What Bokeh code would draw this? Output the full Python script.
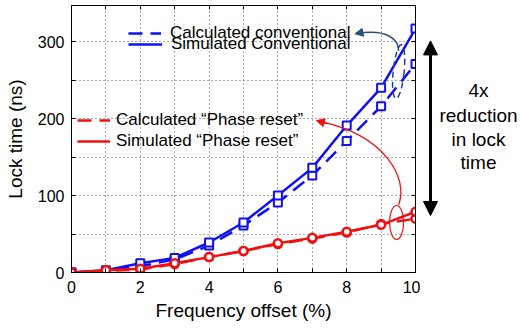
from bokeh.plotting import figure
from bokeh.layouts import row
from bokeh.models import (FixedTicker, LinearAxis, Range1d, Legend, LegendItem,
                          Label, Arrow, NormalHead)
from bokeh.embed import file_html
from bokeh.resources import INLINE

# Lock time (ns) versus frequency offset (%)
freq = [0, 1, 2, 3, 4, 5, 6, 7, 8, 9, 10]
sim_conv = [0, 3, 12, 19, 39, 65, 100, 136, 191, 240, 317]
calc_conv = [0, 2, 8, 17, 35, 61, 91, 126, 171, 216, 271]
sim_reset = [0, 3, 5, 12, 20, 28, 38, 45, 53, 62, 79]
calc_reset = [0, 2, 4, 11, 20, 28, 37, 44, 52, 63, 70]

x_ticks = list(range(0, 11))
x_labels = {t: (str(t) if t % 2 == 0 else "") for t in x_ticks}
y_ticks = list(range(0, 351, 50))
y_labels = {t: (str(t) if t % 100 == 0 else "") for t in y_ticks}

FONT = "Liberation Sans"
BLUE = "#1010f0"
RED = "#f01010"

p = figure(width=420, height=330, x_range=Range1d(0, 10), y_range=Range1d(0, 347),
           output_backend="svg", toolbar_location=None,
           min_border_left=71, min_border_right=5, min_border_top=5, min_border_bottom=58)

p.outline_line_color = "black"
p.outline_line_width = 1

for ax, ticks, labels in ((p.xaxis[0], x_ticks, x_labels), (p.yaxis[0], y_ticks, y_labels)):
    ax.ticker = FixedTicker(ticks=ticks)
    ax.major_label_overrides = labels
    ax.major_tick_in = 4
    ax.major_tick_out = 0
    ax.minor_tick_line_color = None
    ax.axis_line_color = "black"
    ax.major_label_text_font = FONT
    ax.major_label_text_font_size = "16px"
    ax.major_label_text_color = "black"
    ax.axis_label_text_font = FONT
    ax.axis_label_text_font_size = "19px"
    ax.axis_label_text_font_style = "normal"
    ax.axis_label_text_color = "black"

p.xaxis.axis_label = "Frequency offset (%)"
p.yaxis.axis_label = "Lock time (ns)"
p.xaxis.major_label_standoff = 8
p.yaxis.major_label_standoff = 7
p.xaxis.axis_label_standoff = 4
p.yaxis.axis_label_standoff = 9

# box ticks on the top and right edges
for side, ticks in (("right", y_ticks), ("above", x_ticks)):
    ax = LinearAxis(ticker=FixedTicker(ticks=ticks),
                    major_label_overrides={t: "" for t in ticks},
                    major_label_text_font_size="0px", major_label_standoff=0,
                    major_tick_in=4, major_tick_out=0,
                    minor_tick_line_color=None, axis_line_color="black")
    p.add_layout(ax, side)

p.xgrid.ticker = FixedTicker(ticks=x_ticks)
p.ygrid.ticker = FixedTicker(ticks=y_ticks)
for g in (p.xgrid[0], p.ygrid[0]):
    g.grid_line_color = "#555555"
    g.grid_line_dash = "1 3"
    g.grid_line_width = 1

# series
r_cc = p.line(freq, calc_conv, line_color=BLUE, line_width=2.5, line_dash="14 8")
r_sc = p.line(freq, sim_conv, line_color=BLUE, line_width=2.5)
r_cr = p.line(freq, calc_reset, line_color=RED, line_width=2.5, line_dash="14 8")
r_sr = p.line(freq, sim_reset, line_color=RED, line_width=2.5)

p.scatter(freq, calc_conv, marker="square", size=8, line_color=BLUE, line_width=2, fill_color="white")
p.scatter(freq, sim_conv, marker="square", size=8, line_color=BLUE, line_width=2, fill_color="white")
p.scatter(freq, calc_reset, marker="circle", size=8, line_color=RED, line_width=2.5, fill_color="white")
p.scatter(freq, sim_reset, marker="circle", size=8, line_color=RED, line_width=2.5, fill_color="white")

# legends, one row each
def legend_row(label, rend, x, y, glyph_w, standoff):
    leg = Legend(items=[LegendItem(label=label, renderers=[rend])], location=(x, y),
                 glyph_width=glyph_w, glyph_height=14, label_standoff=standoff,
                 label_text_font=FONT, label_text_font_size="17px",
                 label_text_color="black", padding=0, margin=0, spacing=0,
                 border_line_color=None, background_fill_alpha=0)
    p.add_layout(leg)

legend_row("Calculated conventional", r_cc, 57, 229, 33, 9)
legend_row("Simulated Conventional", r_sc, 57, 218, 34, 9)
legend_row("Calculated \u201cPhase reset\u201d", r_cr, 6, 142, 33, 6)
legend_row("Simulated \u201cPhase reset\u201d", r_sr, 6, 121, 33, 6)

# curved pointer from the conventional curves to their legend
p.bezier(x0=[9.51], y0=[288], x1=[8.30], y1=[310.4], cx0=[9.51], cy0=[304], cx1=[9.13], cy1=[317],
         line_color="#2f4f78", line_width=1.5)
p.add_layout(Arrow(end=NormalHead(size=8, fill_color="#2f4f78", line_color="#2f4f78"),
                   x_start=8.45, y_start=312, x_end=8.24, y_end=310.2,
                   line_color="#2f4f78", line_width=1.5))
p.ellipse(x=[9.51], y=[261], width=[11], height=[54], width_units="screen", height_units="screen",
          angle=[-0.1], fill_alpha=0, line_color="#2040a0", line_width=1.5, line_dash="6 4")

# curved pointer from the phase-reset curves to their legend
p.bezier(x0=[9.51], y0=[88], x1=[7.24], y1=[196], cx0=[9.80], cy0=[122], cx1=[9.13], cy1=[178],
         line_color=RED, line_width=1.3)
p.add_layout(Arrow(end=NormalHead(size=8, fill_color=RED, line_color=RED),
                   x_start=7.44, y_start=193.5, x_end=7.12, y_end=197.4,
                   line_color=RED, line_width=1.3))
p.ellipse(x=[9.45], y=[65], width=[14], height=[34], width_units="screen", height_units="screen",
          fill_alpha=0, line_color=RED, line_width=1.2)

# side panel sharing the lock-time scale: reduction arrow and note
q = figure(width=100, height=330, x_range=Range1d(0, 100), y_range=p.y_range,
           output_backend="svg", toolbar_location=None,
           min_border_left=0, min_border_right=0, min_border_top=5, min_border_bottom=58)
q.axis.visible = False
q.grid.visible = False
q.outline_line_color = None
q.add_layout(Arrow(start=NormalHead(size=14, fill_color="black", line_color="black"),
                   end=NormalHead(size=14, fill_color="black", line_color="black"),
                   x_start=10, y_start=74, x_end=10, y_end=301,
                   line_color="black", line_width=3))
for txt, yy in (("4x", 236.4), ("reduction", 203.9), ("in lock", 172.7), ("time", 142.9)):
    q.add_layout(Label(x=58, y=yy, text=txt, text_align="center", text_baseline="middle",
                       text_font=FONT, text_font_size="19px", text_color="black"))

layout = row(p, q, spacing=0)
open("out.html", "w").write(file_html(layout, INLINE))
